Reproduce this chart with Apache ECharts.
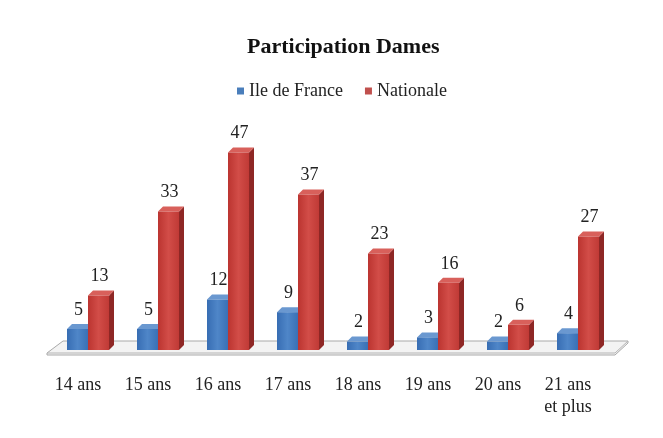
<!DOCTYPE html>
<html><head><meta charset="utf-8">
<script src="https://cdn.jsdelivr.net/npm/echarts@6/dist/echarts.min.js"></script>
<style>html,body{margin:0;padding:0;background:#fff}#c{width:663px;height:438px}</style>
</head><body><div id="c"></div>
<script>
const categories = ['14 ans','15 ans','16 ans','17 ans','18 ans','19 ans','20 ans','21 ans\net plus'];
const ileDeFrance = [5, 5, 12, 9, 2, 3, 2, 4];
const nationale = [13, 33, 47, 37, 23, 16, 6, 27];
const seriesNames = ['Ile de France', 'Nationale'];

const FONT = '"Liberation Serif", "Times New Roman", serif';
const DX = 5, DY = 5;
const palettes = [
  {front: ['#376db3', '#4f86c8', '#3a70b5'], side: '#2c5a94', top: '#6a98d0', legend: '#4a7ebb'},
  {front: ['#bb3430', '#d24d48', '#c03a36'], side: '#8e2725', top: '#d8605b', legend: '#c0504d'}
];

function barRenderer(si) {
  return function (params, api) {
    const idx = api.value(0), val = api.value(1);
    const top = api.coord([idx, val]);
    const base = api.coord([idx, 0]);
    const w = 21;
    const left = top[0] - 11 + si * w;
    const right = left + w;
    const p = palettes[si];
    const children = [
      {type: 'polygon', shape: {points: [[right, top[1]], [right + DX, top[1] - DY], [right + DX, base[1] - DY], [right, base[1]]]},
        style: {fill: p.side}},
      {type: 'polygon', shape: {points: [[left, top[1]], [left + DX, top[1] - DY], [right + DX, top[1] - DY], [right, top[1]]]},
        style: {fill: p.top}},
      {type: 'rect', shape: {x: left, y: top[1], width: w, height: base[1] - top[1]},
        style: {fill: new echarts.graphic.LinearGradient(0, 0, 1, 0, [
          {offset: 0, color: p.front[0]}, {offset: 0.5, color: p.front[1]}, {offset: 1, color: p.front[2]}])}},
      {type: 'text', x: left + w / 2 + 1, y: top[1] - DY - 5,
        style: {text: String(val), fill: '#222', font: '18px ' + FONT, align: 'center', verticalAlign: 'bottom'}}
    ];
    return {type: 'group', children: children};
  };
}

function floorRenderer(params, api) {
  const cs = params.coordSys;
  const x0 = cs.x + 4, x1 = cs.x + cs.width + 12;
  const yF = cs.y + cs.height + 3, yB = yF - 12;
  return {type: 'group', children: [
    {type: 'polygon', shape: {points: [[x0, yF + 2], [x1, yF + 2], [x1 + 13, yB + 2], [x1 + 13, yB], [x0 + 16, yB], [x0, yF]]},
      style: {fill: '#f3f3f3', stroke: '#a9a9a9', lineWidth: 1}},
    {type: 'polyline', shape: {points: [[x0, yF], [x1, yF], [x1 + 13, yB]]}, style: {stroke: '#b5b5b5', lineWidth: 1, fill: null}}
  ]};
}

const chart = echarts.init(document.getElementById('c'));
chart.setOption({
  animation: false,
  backgroundColor: '#fff',
  title: {text: 'Participation Dames', left: 242, top: 31,
    textStyle: {fontFamily: FONT, fontSize: 22, fontWeight: 'bold', color: '#111'}},
  legend: {top: 77, left: 232, itemWidth: 7, itemHeight: 7, itemGap: 22, icon: 'rect',
    textStyle: {fontFamily: FONT, fontSize: 18, color: '#222'},
    data: seriesNames},
  grid: {left: 43, width: 560, top: 140, bottom: 88},
  xAxis: {type: 'category', data: categories,
    axisLine: {show: false}, axisTick: {show: false},
    axisLabel: {fontFamily: FONT, fontSize: 18, color: '#222', margin: 24, lineHeight: 22, interval: 0}},
  yAxis: {type: 'value', min: 0, max: 50, show: false, splitLine: {show: false}},
  series: [
    {type: 'custom', name: 'floor', renderItem: floorRenderer, data: [[0, 0]], z: 1, silent: true},
    {type: 'custom', name: seriesNames[0], renderItem: barRenderer(0), itemStyle: {color: palettes[0].legend},
      data: ileDeFrance.map((v, i) => [i, v]), z: 2},
    {type: 'custom', name: seriesNames[1], renderItem: barRenderer(1), itemStyle: {color: palettes[1].legend},
      data: nationale.map((v, i) => [i, v]), z: 3}
  ]
});
</script></body></html>
